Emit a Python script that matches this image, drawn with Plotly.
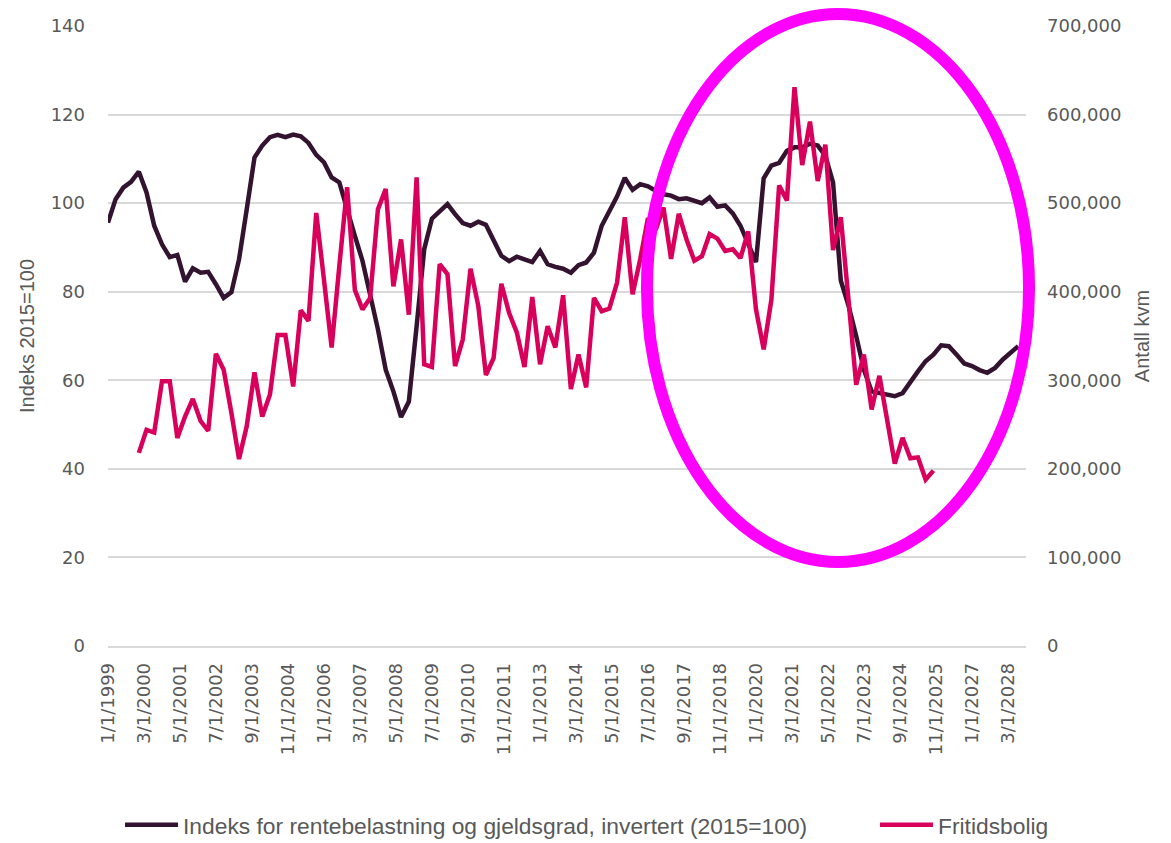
import plotly.graph_objects as go
import pandas as pd

# ---------------- data ----------------
tick_labels = ["1/1/1999", "3/1/2000", "5/1/2001", "7/1/2002", "9/1/2003", "11/1/2004",
               "1/1/2006", "3/1/2007", "5/1/2008", "7/1/2009", "9/1/2010", "11/1/2011",
               "1/1/2013", "3/1/2014", "5/1/2015", "7/1/2016", "9/1/2017", "11/1/2018",
               "1/1/2020", "3/1/2021", "5/1/2022", "7/1/2023", "9/1/2024", "11/1/2025",
               "1/1/2027", "3/1/2028"]

index_name = "Indeks for rentebelastning og gjeldsgrad, invertert (2015=100)"
index_start = "1999-01-01"
index_values = [
    95.6, 100.9, 103.5, 104.8, 107.1, 102.4, 94.9, 90.7, 87.8, 88.3,
    82.3, 85.3, 84.3, 84.5, 81.7, 78.6, 79.9, 87.3, 98.6, 110.3,
    113.0, 114.9, 115.4, 114.9, 115.5, 115.1, 113.6, 110.9, 109.2, 105.8,
    104.7, 98.2, 92.6, 87.0, 79.8, 71.5, 62.4, 57.5, 51.7, 55.2,
    72.2, 89.6, 96.5, 98.0, 99.8, 97.5, 95.5, 94.9, 95.8, 95.1,
    91.8, 88.1, 86.9, 87.9, 87.3, 86.7, 89.2, 86.2, 85.6, 85.2,
    84.3, 86.0, 86.6, 88.8, 94.9, 98.3, 101.5, 105.7, 103.0, 104.3,
    103.8, 102.8, 102.0, 101.7, 100.9, 101.1, 100.5, 100.0, 101.3, 99.2,
    99.5, 97.7, 94.9, 90.7, 86.7, 105.6, 108.5, 109.1, 111.8, 112.6,
    112.6, 113.4, 113.0, 110.7, 104.7, 82.5, 76.8, 70.0, 62.4, 57.5,
    57.1, 56.8, 56.4, 57.1, 59.8, 62.0, 64.3, 65.8, 67.9, 67.7,
    65.8, 63.8, 63.2, 62.3, 61.7, 62.8, 64.7, 66.2, 67.7,
]

fritid_name = "Fritidsbolig"
fritid_start = "2000-01-01"
fritid_values = [
    218000, 244000, 241000, 299000, 299000, 235000, 259000, 279000, 254000, 243000,
    330000, 312000, 263000, 211000, 248000, 309000, 259000, 284000, 351000, 351000,
    293000, 379000, 367000, 489000, 413000, 337000, 429000, 518000, 402000, 380000,
    393000, 493000, 516000, 406000, 459000, 374000, 529000, 318000, 315000, 431000,
    420000, 316000, 346000, 426000, 384000, 306000, 325000, 409000, 376000, 354000,
    315000, 394000, 318000, 361000, 337000, 396000, 290000, 329000, 292000, 393000,
    378000, 381000, 410000, 484000, 397000, 437000, 483000, 470000, 495000, 437000,
    488000, 459000, 435000, 440000, 465000, 460000, 446000, 448000, 438000, 468000,
    380000, 335000, 391000, 520000, 503000, 631000, 543000, 592000, 525000, 566000,
    447000, 484000, 390000, 295000, 329000, 267000, 305000, 253000, 206000, 235000,
    212000, 213000, 188000, 198000,
]

# ---------------- figure ----------------
index_dates = pd.date_range(index_start, periods=len(index_values), freq="QS")
fritid_dates = pd.date_range(fritid_start, periods=len(fritid_values), freq="QS")
tick_dates = pd.to_datetime(tick_labels, format="%m/%d/%Y")

GRAY = "#595959"
TICKFONT = dict(family="DejaVu Sans", size=18, color=GRAY)
TITLEFONT = dict(family="Liberation Sans", size=20, color=GRAY)
LEGENDFONT = dict(family="Liberation Sans", size=22.8, color=GRAY)

fig = go.Figure()
fig.add_trace(go.Scatter(x=index_dates, y=index_values, name=index_name, mode="lines",
                         line=dict(color="#331330", width=4.5), yaxis="y", legend="legend"))
fig.add_trace(go.Scatter(x=fritid_dates, y=fritid_values, name=fritid_name, mode="lines",
                         line=dict(color="#D8005A", width=4.5), yaxis="y2", legend="legend2"))

fig.update_layout(
    width=1171, height=843,
    margin=dict(l=108, r=145, t=26, b=197),
    paper_bgcolor="white", plot_bgcolor="white",
    showlegend=True,
    legend=dict(orientation="h", xref="container", yref="container",
                x=0.1025, xanchor="left", y=0.0214, yanchor="middle", itemwidth=53,
                font=LEGENDFONT, bgcolor="rgba(0,0,0,0)"),
    legend2=dict(orientation="h", xref="container", yref="container",
                 x=0.7472, xanchor="left", y=0.0214, yanchor="middle", itemwidth=53,
                 font=LEGENDFONT, bgcolor="rgba(0,0,0,0)"),
    xaxis=dict(type="date", range=["1999-01-01", "2028-10-01"],
               tickvals=tick_dates, ticktext=tick_labels, tickangle=-90,
               tickfont=TICKFONT, showgrid=False, zeroline=False,
               showline=True, linecolor="#D9D9D9", linewidth=1.5,
               ticks="", ticklabelstandoff=8, automargin=False),
    yaxis=dict(range=[0, 140], dtick=20, tickfont=TICKFONT,
               showgrid=True, gridcolor="#D9D9D9", gridwidth=1.5, zeroline=False,
               ticks="", ticklabelstandoff=22, automargin=False,
               title=dict(text="Indeks 2015=100", font=TITLEFONT, standoff=10)),
    yaxis2=dict(range=[0, 700000], dtick=100000, tickformat=",", overlaying="y", side="right",
                tickfont=TICKFONT, showgrid=False, zeroline=False,
                ticks="", ticklabelstandoff=20, automargin=False,
                title=dict(text="Antall kvm", font=TITLEFONT, standoff=14)),
    shapes=[dict(type="circle", xref="paper", yref="paper",
                 x0=0.5871, x1=1.0033, y0=0.1355, y1=1.0194,
                 line=dict(color="#FF00FF", width=12), layer="above")],
)

fig.write_html("out.html", config={"displayModeBar": False},
               post_script="document.body.style.margin='0';document.body.style.overflow='hidden';")
